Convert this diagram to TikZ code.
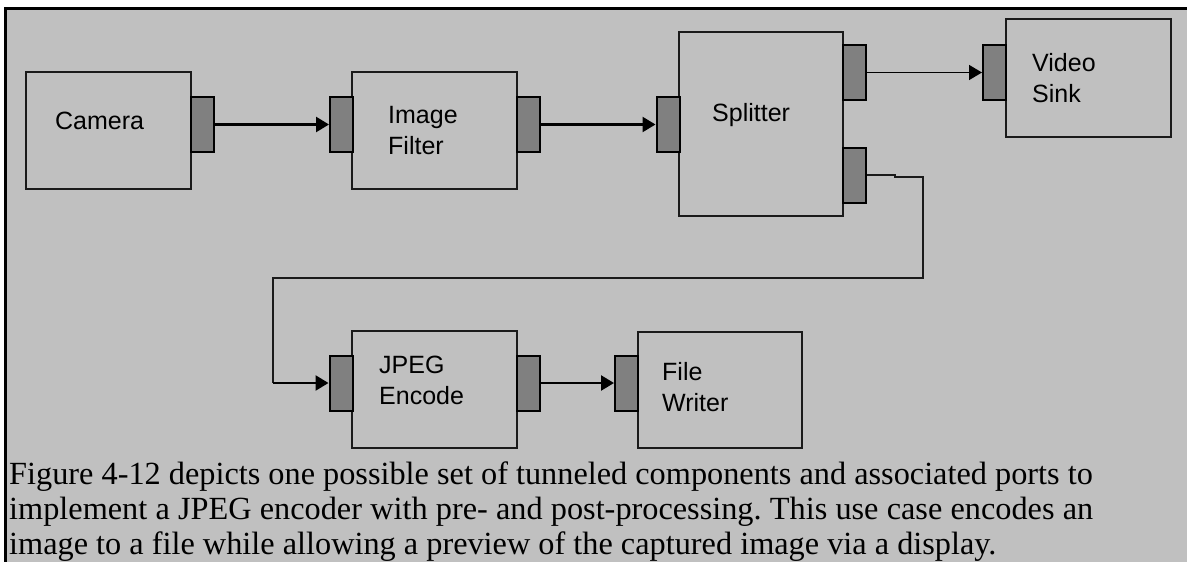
\documentclass[tikz,border=0pt]{standalone}
\usepackage{fontspec}
\setmainfont{Liberation Serif}
\setsansfont{Liberation Sans}
\usepackage{tikz}
\usetikzlibrary{positioning,arrows.meta}
\definecolor{panel}{HTML}{C0C0C0}
\definecolor{portgray}{HTML}{808080}
\definecolor{edge}{HTML}{1A1A1A}
\newcommand{\fullline}[1]{\makebox[1084pt][s]{#1}}

\begin{document}
\frenchspacing
\begin{tikzpicture}[
  x=1pt,y=-1pt,
  block/.style={rectangle,draw=edge,line width=1.5pt,fill=panel,
                minimum width=165pt,minimum height=117pt,inner sep=0pt},
  port/.style={rectangle,draw=black,line width=2pt,fill=portgray,
               minimum width=23pt,minimum height=55pt,inner sep=0pt},
  blocktext/.style={anchor=base west,align=left,inner sep=0pt,
                    font=\sffamily\fontsize{25}{31}\selectfont},
  flow/.style={-{Triangle[length=13pt,width=15pt]},line width=2.5pt},
  thinflow/.style={-{Triangle[length=13pt,width=15pt]},line width=1.5pt},
  wire/.style={line width=1.5pt,draw=edge}
]
  \useasboundingbox (0,0) rectangle (1187,562);
  \fill[white] (0,0) rectangle (1187,562);
  \fill[panel] (5,8) rectangle (1187,562);
  \draw[line width=3pt] (5.5,562) -- (5.5,8.5) -- (1187,8.5);

  \node[block] (camera)   at (108.5,130.5) {};
  \node[block] (filter)   at (434.5,130.5) {};
  \node[block,minimum width=164pt,minimum height=184pt] (splitter) at (761,124) {};
  \node[block,minimum height=118pt] (sink) at (1088.5,78) {};
  \node[block] (jpeg)     at (434.5,389.5) {};
  \node[block,minimum width=164pt,minimum height=116pt] (writer) at (720,390) {};

  \node[port] (camout)  at (202,124.5) {};
  \node[port] (filtin)  at (341.5,124.5) {};
  \node[port] (filtout) at (528.5,124.5) {};
  \node[port] (splin)   at (668,124.5) {};
  \node[port] (splout1) at (854.5,72.5) {};
  \node[port] (splout2) at (854.5,175) {};
  \node[port] (sinkin)  at (994.5,72.5) {};
  \node[port] (jpgin)   at (341,383) {};
  \node[port] (jpgout)  at (528.5,383) {};
  \node[port] (wrin)    at (626.5,383) {};

  \node[blocktext] (cameratext)   at (55,129)   {Camera};
  \node[blocktext] (filtertext)   at (388,154)  {Image\\Filter};
  \node[blocktext] (splittertext) at (712,121)  {Splitter};
  \node[blocktext] (sinktext)     at (1032,102) {Video\\Sink};
  \node[blocktext] (jpegtext)     at (379,404)  {JPEG\\Encode};
  \node[blocktext] (writertext)   at (662,411)  {File\\Writer};

  \draw[flow] (camout) -- (filtin);
  \draw[flow] (filtout) -- (splin);
  \draw[thinflow] (splout1) -- (sinkin);
  \coordinate (turn) at (273,383);
  \draw[wire] (splout2.east) -- (895,175) -- (895,177) -- (923,177)
              -- (923,278) -- (273,278) -- (turn);
  \draw[flow] (turn) -- (jpgin);
  \draw[flow] (jpgout) -- (wrin);

  \node[anchor=base west,align=left,inner sep=0pt,
        font=\fontsize{32.3}{35}\selectfont] (caption) at (9,554)
    {Figure 4-12 depicts one possible set of tunneled components and associated ports to\\
     \fullline{implement a JPEG encoder with pre- and post-processing. This use case encodes an}\\
     image to a file while allowing a preview of the captured image via a display.};
\end{tikzpicture}
\end{document}
